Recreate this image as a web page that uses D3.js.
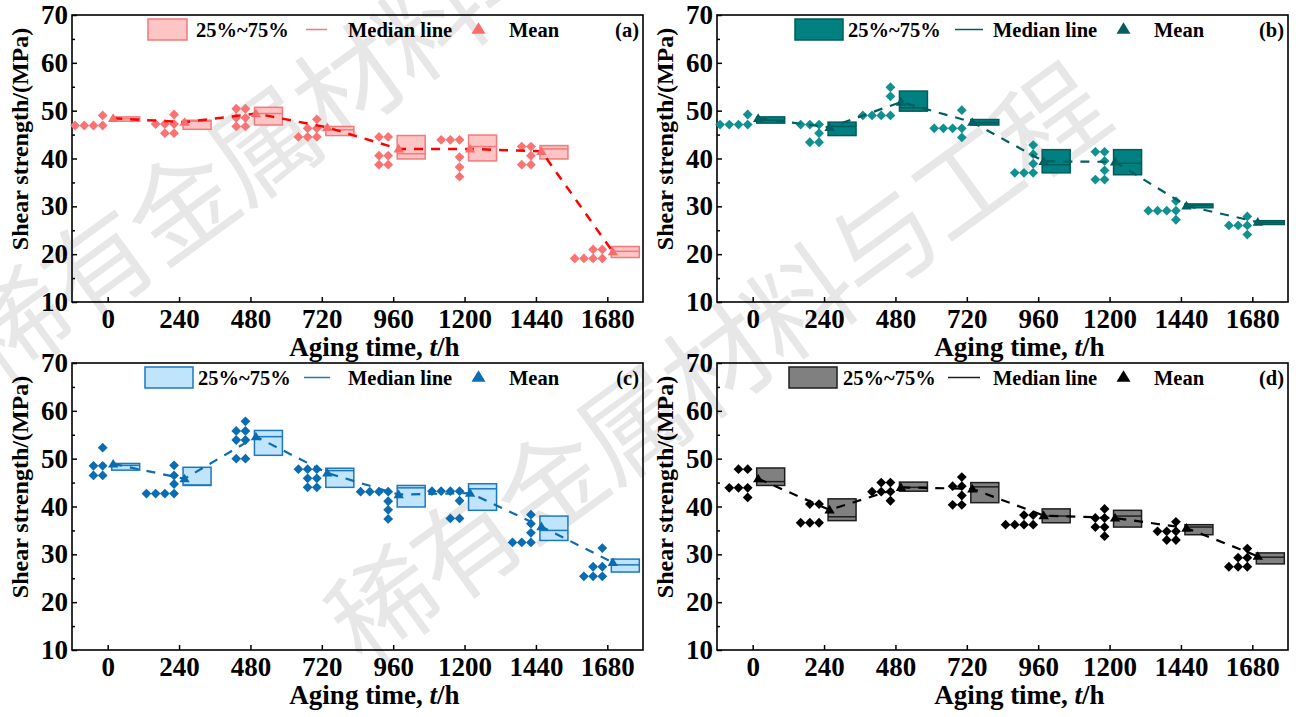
<!DOCTYPE html>
<html>
<head>
<meta charset="utf-8">
<script src="https://cdn.jsdelivr.net/npm/d3@7"></script>
<style>
  body { margin: 0; background: #fff; }
  svg text { font-family: "Liberation Serif", "Times New Roman", serif; font-weight: bold; }
</style>
</head>
<body>
<svg id="chart" width="1296" height="717"></svg>
<script>
// aging times (categories) and axis ticks
const times = [0, 240, 480, 720, 960, 1200, 1440, 1680];
const yTicks = [10, 20, 30, 40, 50, 60, 70];
const yMinor = [15, 25, 35, 45, 55, 65];

// (a) raw points, box stats
const pointsA = [
  [46.9, 46.9, 46.9, 46.9, 49.0],
  [47.2, 47.2, 47.2, 45.3, 45.3, 49.2],
  [50.4, 50.4, 48.5, 48.5, 46.7, 46.7],
  [44.5, 44.5, 44.5, 46.3, 46.3, 48.2],
  [44.5, 44.5, 40.6, 40.6, 38.7, 38.7],
  [43.9, 43.9, 43.9, 40.3, 38.2, 36.2],
  [42.5, 42.5, 40.6, 38.7, 38.7],
  [19.1, 19.1, 19.1, 19.1, 21.0, 21.0]
];
const q1A = [47.8, 46.1, 47.0, 44.8, 39.9, 39.5, 39.9, 19.3];
const q3A = [48.7, 48.0, 50.7, 46.7, 44.8, 44.9, 42.7, 21.6];
const medA = [48.3, 47.8, 49.4, 46.0, 41.0, 42.5, 42.0, 20.6];
const meanA = [48.4, 47.6, 49.4, 46.5, 42.0, 42.0, 41.5, 20.5];

// (b)
const pointsB = [
  [47.1, 47.1, 47.1, 47.1, 49.2],
  [47.1, 47.1, 47.1, 45.3, 43.4, 43.4],
  [49.0, 49.0, 49.0, 49.0, 53.0, 54.9],
  [46.3, 46.3, 46.3, 46.3, 50.1, 44.4],
  [37.0, 37.0, 37.0, 38.9, 40.9, 42.8],
  [41.4, 41.4, 39.5, 37.5, 35.6, 35.6],
  [29.1, 29.1, 29.1, 29.1, 31.1, 27.2],
  [26.0, 26.0, 26.0, 27.9, 24.1]
];
const q1B = [47.4, 44.8, 49.9, 47.0, 37.0, 36.6, 29.7, 26.2];
const q3B = [48.7, 47.6, 54.1, 48.15, 41.85, 41.85, 30.5, 27.0];
const medB = [48.0, 46.7, 50.6, 47.5, 38.7, 39.0, 30.2, 26.6];
const meanB = [48.4, 46.5, 51.8, 47.6, 39.4, 39.3, 30.1, 26.7];

// (c)
const pointsC = [
  [48.5, 48.5, 46.5, 46.5, 52.3],
  [42.7, 42.7, 42.7, 42.7, 44.7, 46.5, 48.6],
  [57.8, 55.8, 55.8, 53.9, 53.9, 50.0, 50.0],
  [47.8, 47.8, 47.8, 45.9, 45.9, 44.0, 44.0],
  [43.1, 43.1, 43.1, 43.1, 41.1, 39.3, 37.4],
  [43.2, 43.2, 43.2, 43.2, 41.2, 37.5, 37.5],
  [32.5, 32.5, 32.5, 34.5, 36.4, 38.3],
  [25.4, 25.4, 25.4, 27.4, 27.4, 31.3]
];
const q1C = [47.6, 44.4, 50.7, 44.0, 39.9, 39.2, 32.9, 26.3];
const q3C = [49.0, 48.2, 55.9, 48.0, 44.4, 44.75, 38.0, 29.0];
const medC = [48.6, 44.5, 54.6, 47.5, 43.9, 43.7, 35.0, 27.8];
const meanC = [48.9, 45.8, 54.6, 47.0, 42.5, 42.8, 35.8, 28.3];

// (d)
const pointsD = [
  [43.9, 43.9, 43.9, 47.8, 47.8, 41.9],
  [36.6, 36.6, 36.6, 40.5, 40.5],
  [43.1, 43.1, 43.1, 45.0, 45.0, 41.2],
  [44.25, 44.25, 46.15, 42.3, 40.35, 40.35],
  [36.2, 36.2, 36.2, 36.2, 38.2, 38.2],
  [39.5, 37.6, 37.6, 35.7, 35.7, 33.8],
  [36.8, 34.8, 34.8, 34.8, 33.0, 33.0],
  [27.4, 27.4, 27.4, 29.3, 29.3, 31.2]
];
const q1D = [44.4, 37.05, 43.2, 40.8, 36.6, 35.7, 34.1, 28.0];
const q3D = [48.05, 41.6, 45.1, 45.0, 39.5, 39.2, 36.2, 30.3];
const medD = [45.2, 37.85, 44.0, 44.1, 38.0, 38.0, 35.7, 29.4];
const meanD = [45.8, 39.3, 44.0, 43.7, 38.1, 37.6, 35.5, 29.6];

const watermark = '稀有金属材料与工程';

const W = 571, H = 287;
const svg = d3.select('#chart');

// faint diagonal watermark behind everything (cut by the page edge, as in the original)
const wmStarts = [[11, 321], [380, 600]];
wmStarts.forEach(([sx, sy]) => {
  watermark.split('').forEach((ch, i) => {
    svg.append('text')
      .attr('transform', `translate(${sx + i * 83.3},${sy - i * 60.5}) rotate(-36)`)
      .attr('text-anchor', 'middle')
      .attr('dominant-baseline', 'central')
      .style('font-family', '"Noto Sans CJK SC", sans-serif')
      .style('font-weight', 'normal')
      .attr('font-size', 106)
      .attr('fill', '#e7e7e7')
      .text(ch);
  });
});

const panels = [
  { tag: '(a)', left: 72, top: 15, pts: pointsA, q1: q1A, q3: q3A, med: medA, mean: meanA,
    fill: '#ffc4c4', stroke: '#f27a7a', dot: '#fa7272', tri: '#fa6c6c', line: '#ff0000', lw: 2.5,
    legX: 76, legW: 39, legT: 124, medX: [234, 255] },
  { tag: '(b)', left: 717, top: 15, pts: pointsB, q1: q1B, q3: q3B, med: medB, mean: meanB,
    fill: '#008080', stroke: '#005c5c', dot: '#109090', tri: '#005f5f', line: '#005f5f', lw: 2.2,
    legX: 78, legW: 48, legT: 131, medX: [238, 266] },
  { tag: '(c)', left: 72, top: 363, pts: pointsC, q1: q1C, q3: q3C, med: medC, mean: meanC,
    fill: '#bfe4fb', stroke: '#1c78bd', dot: '#0a6cb2', tri: '#0a6cb2', line: '#0a6cb2', lw: 2.2,
    legX: 73, legW: 48, legT: 126, medX: [232, 258] },
  { tag: '(d)', left: 717, top: 363, pts: pointsD, q1: q1D, q3: q3D, med: medD, mean: meanD,
    fill: '#808080', stroke: '#1e1e1e', dot: '#000000', tri: '#000000', line: '#000000', lw: 2.2,
    legX: 72, legW: 48, legT: 126, medX: [231, 263] }
];

const diamond = d3.symbol(d3.symbolSquare, 48);
const triPath = 'M0,-5L5.2,3.6L-5.2,3.6Z';

panels.forEach(drawPanel);

function drawPanel(p) {
  const g = svg.append('g').attr('transform', `translate(${p.left},${p.top})`);
  const x = d3.scaleLinear().domain([-120, 1800]).range([0, W]);
  const y = d3.scaleLinear().domain([10, 70]).range([H, 0]);

  // axes (ticks pointing inward)
  const gx = g.append('g').attr('transform', `translate(0,${H})`)
    .call(d3.axisBottom(x).tickValues(times).tickFormat(d3.format('d')).tickSize(-5).tickPadding(7));
  const gy = g.append('g')
    .call(d3.axisLeft(y).tickValues(yTicks).tickFormat(d3.format('d')).tickSize(-5).tickPadding(4));
  const gm = g.append('g')
    .call(d3.axisLeft(y).tickValues(yMinor).tickSize(-3).tickFormat(''));
  [gx, gy, gm].forEach(a => {
    a.select('.domain').remove();
    a.attr('font-family', null).attr('font-size', null);
    a.selectAll('line').attr('stroke', '#000').attr('stroke-width', 1.5);
    a.selectAll('text').attr('font-size', 27).attr('fill', '#000');
  });

  g.append('rect').attr('width', W).attr('height', H)
    .attr('fill', 'none').attr('stroke', '#000').attr('stroke-width', 1.6);

  // boxes 25%~75% with median line
  const boxes = g.append('g');
  times.forEach((t, i) => {
    const bx = x(t) + 4;
    boxes.append('rect')
      .attr('x', bx).attr('y', y(p.q3[i]))
      .attr('width', 28).attr('height', y(p.q1[i]) - y(p.q3[i]))
      .attr('fill', p.fill).attr('stroke', p.stroke).attr('stroke-width', 1.5);
    boxes.append('line')
      .attr('x1', bx).attr('x2', bx + 28)
      .attr('y1', y(p.med[i])).attr('y2', y(p.med[i]))
      .attr('stroke', p.stroke).attr('stroke-width', 1.5);
  });

  // data points stacked to the left of each category
  const dots = g.append('g').attr('fill', p.dot);
  times.forEach((t, i) => {
    d3.group(p.pts[i], v => v).forEach((vals, v) => {
      vals.forEach((_, k) => {
        dots.append('path')
          .attr('d', diamond())
          .attr('transform', `translate(${x(t) - 5 - k * 9.2},${y(v)}) rotate(45)`);
      });
    });
  });

  // dashed line through means
  const meanLine = d3.line()
    .x((d, i) => x(times[i]) + 5.5)
    .y(d => y(d));
  g.append('path').datum(p.mean)
    .attr('d', meanLine)
    .attr('fill', 'none').attr('stroke', p.line)
    .attr('stroke-width', p.lw).attr('stroke-dasharray', '9,8');

  g.append('g').selectAll('path').data(p.mean).join('path')
    .attr('d', triPath)
    .attr('fill', p.tri)
    .attr('transform', (d, i) => `translate(${x(times[i]) + 5.5},${y(d)})`);

  // legend
  const leg = g.append('g').attr('font-size', 20.5);
  leg.append('rect').attr('x', p.legX).attr('y', 4).attr('width', p.legW).attr('height', 21)
    .attr('fill', p.fill).attr('stroke', p.stroke).attr('stroke-width', 1.5);
  leg.append('text').attr('x', p.legT).attr('y', 22).text('25%~75%');
  leg.append('line').attr('x1', p.medX[0]).attr('x2', p.medX[1]).attr('y1', 14.5).attr('y2', 14.5)
    .attr('stroke', p.stroke).attr('stroke-width', 1.5);
  leg.append('text').attr('x', 276).attr('y', 22).text('Median line');
  leg.append('path').attr('d', triPath).attr('fill', p.tri)
    .attr('transform', 'translate(406.5,14) scale(1.35)');
  leg.append('text').attr('x', 437).attr('y', 22).text('Mean');
  leg.append('text').attr('x', W - 4).attr('y', 22).attr('text-anchor', 'end').text(p.tag);

  // axis titles
  const xl = g.append('text').attr('x', W / 2 + 17).attr('y', H + 54)
    .attr('text-anchor', 'middle').attr('font-size', 27);
  xl.append('tspan').text('Aging time, ');
  xl.append('tspan').style('font-style', 'italic').text('t');
  xl.append('tspan').text('/h');

  g.append('text')
    .attr('transform', `translate(-44,124) rotate(-90)`)
    .attr('text-anchor', 'middle').attr('font-size', 24)
    .text('Shear strength/(MPa)');
}
</script>
</body>
</html>
